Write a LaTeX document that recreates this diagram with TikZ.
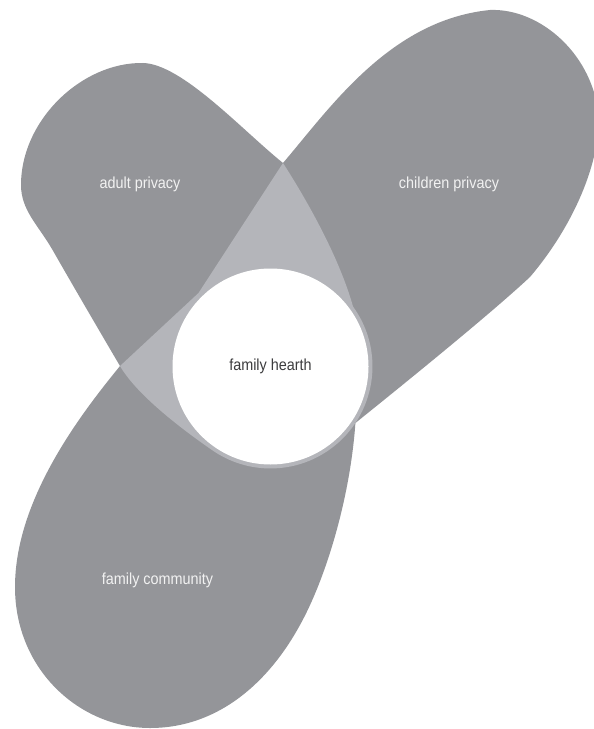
\documentclass[tikz,border=0pt]{standalone}
\usepackage{fontspec}
\setmainfont{Liberation Sans}[FakeStretch=0.9]
\definecolor{lobe}{RGB}{148,149,153}
\definecolor{overlap}{RGB}{180,181,186}
\definecolor{hearthtext}{RGB}{60,60,62}

% lobe outlines (x to the right, y downwards, 1 unit = 1bp);
% the hearth is centred at (270.5,366.5)
\def\adultlobe{(283,163) .. controls (310,205) and (340,260) .. (353,306.5)
  arc[start angle=-36, end angle=125, radius=102]
  .. controls (188,433.4) and (138,397) .. (120,366)
  .. controls (100,332) and (72,284) .. (52,249)
  .. controls (38,225) and (21,210) .. (21,185)
  .. controls (21,120) and (82,62) .. (143,63)
  .. controls (182,64) and (242,130) .. (283,163) -- cycle}
\def\childlobe{(198.5,293) -- (283,163)
  .. controls (330,108) and (390,20) .. (490,10)
  .. controls (540,8) and (595,55) .. (599,120)
  .. controls (598,170) and (570,230) .. (530,277)
  .. controls (500,305) and (440,355) .. (355.4,423)
  -- (270.5,366.5) -- cycle}
\def\commlobe{(270.5,366.5) -- (198.5,293) -- (120,366)
  .. controls (80,415) and (15,500) .. (15,587)
  .. controls (15,670) and (80,728) .. (150,728)
  .. controls (220,728) and (270,680) .. (300,625)
  .. controls (325,580) and (350,500) .. (355.4,423) -- cycle}

\tikzset{
  lbl/.style={text=white!95!black, font=\fontsize{16bp}{18bp}\selectfont, inner sep=0pt},
  hearth/.style={circle, fill=white, minimum size=196bp, inner sep=0pt,
    text=hearthtext, font=\fontsize{16bp}{18bp}\selectfont}
}

\begin{document}
\begin{tikzpicture}[x=1bp,y=-1bp]
  \path[use as bounding box] (0,0) rectangle (594,729);
  \clip (0,0) rectangle (594,729);

  % the three lobes
  \fill[lobe] \adultlobe;
  \fill[lobe] \childlobe;
  \fill[lobe] \commlobe;

  % shared zones of the adult lobe with the other two
  \begin{scope}
    \clip \adultlobe;
    \fill[overlap] \childlobe;
    \fill[overlap] \commlobe;
  \end{scope}

  % the hearth in the middle
  \node[hearth] (hearth) at (270.5,366.5) {family hearth};

  \node[lbl] (adult) at (140,184) {adult privacy};
  \node[lbl] (children) at (449,184) {children privacy};
  \node[lbl] (community) at (157.5,580) {family community};
\end{tikzpicture}
\end{document}
